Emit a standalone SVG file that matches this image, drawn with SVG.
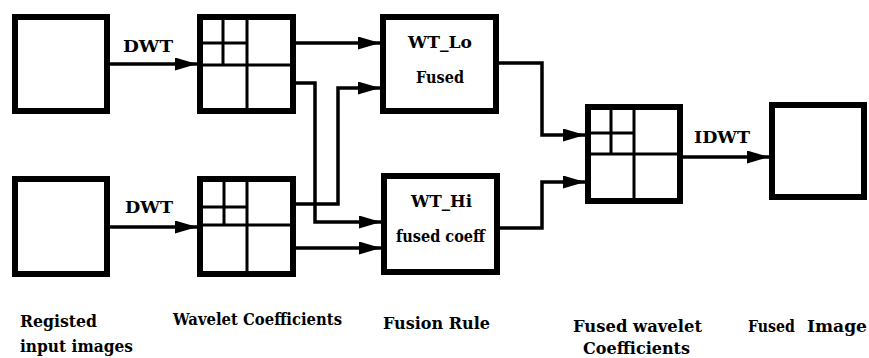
<svg xmlns="http://www.w3.org/2000/svg" width="869" height="358" viewBox="0 0 869 358">
<style>
.box{fill:#fff;stroke:#000;stroke-width:6}
.grid{stroke:#000;stroke-width:3;fill:none}
.con{stroke:#000;stroke-width:3.5;fill:none;marker-end:url(#ah)}
text{font-family:'DejaVu Serif','Liberation Serif',serif;font-weight:700;font-size:17px;fill:#000}
</style>
<defs>
<marker id="ah" markerUnits="userSpaceOnUse" markerWidth="24" markerHeight="14" refX="22" refY="6.5" orient="auto">
<path d="M0,0 L22,6.5 L0,13 z" fill="#000"/>
</marker>
</defs>
<rect width="869" height="358" fill="#fff"/>
<g id="connectors">
<path class="con" d="M110,64 H197"/>
<path class="con" d="M110,227 H197"/>
<path class="con" d="M296,43 H380"/>
<path class="con" d="M296,83 H315 V222 H381"/>
<path class="con" d="M296,204 H338 V88 H380"/>
<path class="con" d="M296,248 H381"/>
<path class="con" d="M499,63 H542 V135 H585"/>
<path class="con" d="M500,228 H542 V182 H585"/>
<path class="con" d="M683,157 H769"/>
<text x="123" y="52" textLength="50" lengthAdjust="spacingAndGlyphs">DWT</text>
<text x="125" y="213" textLength="48" lengthAdjust="spacingAndGlyphs">DWT</text>
<text x="694" y="143" textLength="56" lengthAdjust="spacingAndGlyphs">IDWT</text>
</g>
<g id="input1"><rect class="box" x="15" y="17" width="92" height="94"/></g>
<g id="input2"><rect class="box" x="15" y="179" width="92" height="95"/></g>
<g id="wavelet1">
<rect class="box" x="200" y="17" width="93" height="94"/>
<path class="grid" d="M247,17 V111 M200,65 H293 M223,17 V65 M200,43 H247"/>
</g>
<g id="wavelet2">
<rect class="box" x="200" y="179" width="93" height="95"/>
<path class="grid" d="M247,179 V274 M200,225 H293 M224,179 V225 M200,207 H247"/>
</g>
<g id="wtlo">
<rect class="box" x="383" y="17" width="113" height="94"/>
<text x="408" y="48" textLength="64" lengthAdjust="spacingAndGlyphs">WT_Lo</text>
<text x="416" y="83" textLength="48" lengthAdjust="spacingAndGlyphs">Fused</text>
</g>
<g id="wthi">
<rect class="box" x="384" y="176" width="113" height="96"/>
<text x="411" y="207" textLength="61" lengthAdjust="spacingAndGlyphs">WT_Hi</text>
<text x="396" y="242" textLength="89" lengthAdjust="spacingAndGlyphs">fused coeff</text>
</g>
<g id="fusedwavelet">
<rect class="box" x="588" y="107" width="92" height="94"/>
<path class="grid" d="M634,107 V201 M588,154 H680 M611,107 V154 M588,133 H634"/>
</g>
<g id="fusedimage"><rect class="box" x="772" y="105" width="92" height="92"/></g>
<g id="labels">
<text x="20" y="327" textLength="77" lengthAdjust="spacingAndGlyphs">Registed</text>
<text x="20" y="352" textLength="113" lengthAdjust="spacingAndGlyphs">input images</text>
<text x="173" y="325" textLength="169" lengthAdjust="spacingAndGlyphs">Wavelet Coefficients</text>
<text x="383" y="329" textLength="107" lengthAdjust="spacingAndGlyphs">Fusion Rule</text>
<text x="573" y="332" textLength="129" lengthAdjust="spacingAndGlyphs">Fused wavelet</text>
<text x="583" y="354" textLength="107" lengthAdjust="spacingAndGlyphs">Coefficients</text>
<text x="748" y="332" textLength="47" lengthAdjust="spacingAndGlyphs">Fused</text>
<text x="807" y="332" textLength="60" lengthAdjust="spacingAndGlyphs">Image</text>
</g>
</svg>
